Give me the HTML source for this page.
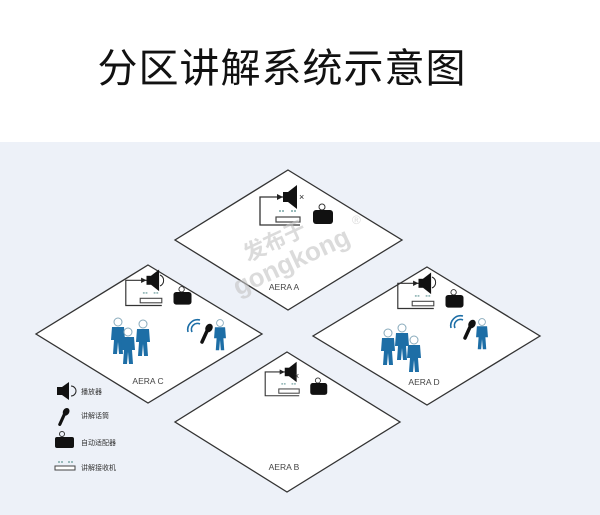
<!DOCTYPE html>
<html><head><meta charset="utf-8"><style>
html,body{margin:0;padding:0;background:#fff}
svg{display:block}
text{font-family:"Liberation Sans","Noto Sans CJK SC",sans-serif}
</style></head><body>
<svg width="600" height="515" viewBox="0 0 600 515" xmlns="http://www.w3.org/2000/svg">
<defs>
<g id="icons">
  <path d="M-4,27 H-28 V55 H12" fill="none" stroke="#333" stroke-width="1.3"/>
  <polygon points="-11,24 -5,27 -11,30" fill="#222"/>
  <rect x="-5" y="22" width="5" height="10" fill="#111"/>
  <polygon points="0,22 9,15 9,39 0,32" fill="#111"/>
  <rect x="-12" y="47" width="24" height="5" fill="#fff" stroke="#444" stroke-width="1.2"/>
  <g fill="#9bb">
    <rect x="-9" y="40" width="2" height="2"/><rect x="-6" y="40" width="2" height="2"/>
    <rect x="3" y="40" width="2" height="2"/><rect x="6" y="40" width="2" height="2"/>
  </g>
  <circle cx="34" cy="37" r="3" fill="none" stroke="#333" stroke-width="1"/>
  <rect x="25" y="40" width="20" height="14" rx="3" fill="#111"/>
</g>
<g id="person">
  <circle cx="0" cy="0" r="4" fill="#fff" stroke="#8ab" stroke-width="1"/>
  <path d="M-6,5 H6 L7,18 H4 L5,32 H1 L0,20 L-1,32 H-5 L-4,18 H-7 Z" fill="#1d6ea6"/>
</g>
<g id="micbody">
  <ellipse cx="9" cy="2" rx="3.5" ry="4.5" transform="rotate(30 9 2)" fill="#111"/>
  <path d="M7,5 L2,16" stroke="#111" stroke-width="3.5" stroke-linecap="round"/>
</g>
<g id="mic">
  <path d="M-12,6 A10,10 0 0 1 0,-6" fill="none" stroke="#1d6ea6" stroke-width="1.6"/>
  <path d="M-8,6 A6,6 0 0 1 0,-2" fill="none" stroke="#1d6ea6" stroke-width="1.6"/>
  <use href="#micbody"/>
</g>
</defs>
<rect x="0" y="142" width="600" height="373" fill="#edf1f8"/>
<text x="282" y="82" font-size="40" text-anchor="middle" fill="#111" letter-spacing="1">分区讲解系统示意图</text>

<!-- A -->
<polygon points="288,170 402,240 288,310 175,240" fill="#fff" stroke="#333" stroke-width="1.3"/>
<use href="#icons" transform="translate(288,170)"/>
<text x="299" y="200" font-size="9" fill="#222">×</text>
<text x="284" y="290" font-size="8.5" fill="#444" text-anchor="middle">AERA A</text>

<!-- C -->
<polygon points="148,265 262,334 148,403 36,334" fill="#fff" stroke="#333" stroke-width="1.3"/>
<use href="#icons" transform="translate(151,256) scale(0.9)"/>
<path d="M160,275 A6,6 0 0 1 160,286" fill="none" stroke="#222" stroke-width="1"/>
<use href="#person" transform="translate(118,322)"/>
<use href="#person" transform="translate(128,332)"/>
<use href="#person" transform="translate(143,324)"/>
<use href="#mic" transform="translate(200,326)"/>
<use href="#person" transform="translate(220,323) scale(0.85)"/>
<text x="148" y="384" font-size="8.5" fill="#444" text-anchor="middle">AERA C</text>

<!-- D -->
<polygon points="427,267 540,336 427,405 313,336" fill="#fff" stroke="#333" stroke-width="1.3"/>
<use href="#icons" transform="translate(423,259) scale(0.9)"/>
<path d="M432,277 A6,6 0 0 1 432,288" fill="none" stroke="#222" stroke-width="1"/>
<use href="#person" transform="translate(388,333)"/>
<use href="#person" transform="translate(402,328)"/>
<use href="#person" transform="translate(414,340)"/>
<use href="#mic" transform="translate(463,322)"/>
<use href="#person" transform="translate(482,322) scale(0.85)"/>
<text x="424" y="385" font-size="8.5" fill="#444" text-anchor="middle">AERA D</text>

<!-- B -->
<polygon points="287,352 400,422 287,492 175,422" fill="#fff" stroke="#333" stroke-width="1.3"/>
<use href="#icons" transform="translate(289,349) scale(0.85)"/>
<text x="294" y="379" font-size="9" fill="#222">×</text>
<text x="284" y="470" font-size="8.5" fill="#444" text-anchor="middle">AERA B</text>

<!-- watermark -->
<g fill="#c4c4c4" opacity="0.6" font-weight="bold">
  <text x="248" y="262" font-size="22" transform="rotate(-25 248 262)">发布于</text>
  <text x="238" y="296" font-size="26" transform="rotate(-25 238 296)">gongkong</text>
  <text x="352" y="224" font-size="12" font-weight="normal">®</text>
</g>

<!-- legend -->
<g>
  <rect x="57" y="387" width="5" height="8" fill="#111"/>
  <polygon points="62,387 69,382 69,400 62,395" fill="#111"/>
  <path d="M71,386 A5,5 0 0 1 71,396" fill="none" stroke="#222" stroke-width="1"/>
  <text x="81" y="394" font-size="7" fill="#333">播放器</text>
  <use href="#micbody" transform="translate(58,410) scale(0.9)"/>
  <text x="81" y="418" font-size="7" fill="#333">讲解话筒</text>
  <circle cx="62" cy="434" r="2.5" fill="none" stroke="#333" stroke-width="1"/>
  <rect x="55" y="437" width="19" height="11" rx="2" fill="#111"/>
  <text x="81" y="445" font-size="7" fill="#333">自动适配器</text>
  <g fill="#9bb"><rect x="58" y="461" width="2" height="2"/><rect x="61" y="461" width="2" height="2"/><rect x="68" y="461" width="2" height="2"/><rect x="71" y="461" width="2" height="2"/></g>
  <rect x="55" y="466" width="20" height="4" fill="#fff" stroke="#444" stroke-width="1"/>
  <text x="81" y="470" font-size="7" fill="#333">讲解接收机</text>
</g>
</svg>
</body></html>
